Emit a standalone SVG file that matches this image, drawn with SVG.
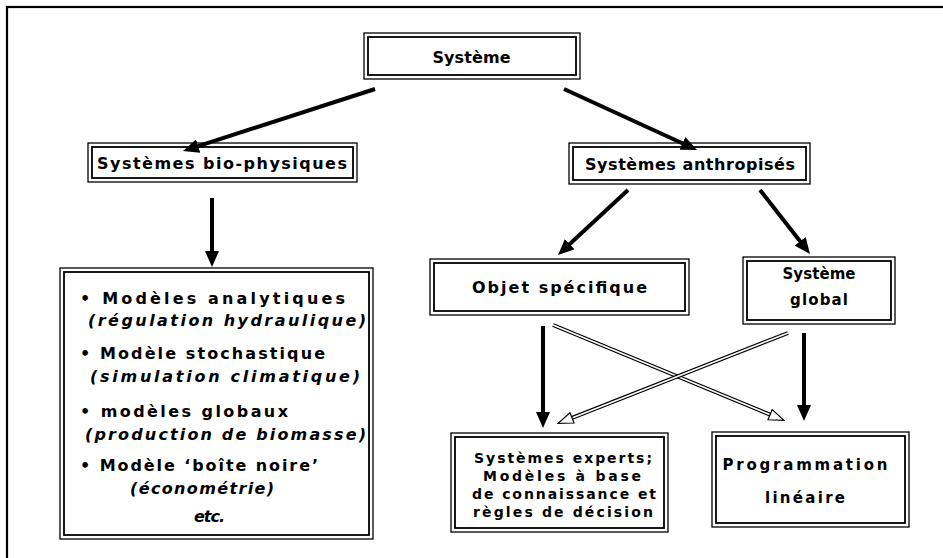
<svg xmlns="http://www.w3.org/2000/svg" width="943" height="558" viewBox="0 0 943 558">
<style>
.bg{fill:#fff}
.o{fill:none;stroke:#000;stroke-width:1.3}
.i{fill:none;stroke:#000;stroke-width:1.8}
.t{font-family:"DejaVu Sans","Liberation Sans",sans-serif;font-weight:bold;fill:#000}
.c{text-anchor:middle}
.it{font-style:italic}
.a{stroke:#000;stroke-width:4;fill:none;marker-end:url(#ah)}
.hb{stroke:#000;stroke-width:4;fill:none}
.hw{stroke:#fff;stroke-width:1.6;fill:none;marker-end:url(#hh)}
</style>
<defs>
<marker id="ah" viewBox="-4 -7 16 14" refX="0" refY="0" markerWidth="16" markerHeight="14" markerUnits="userSpaceOnUse" orient="auto">
<path d="M-4,-7 L12,0 L-4,7 z" fill="#000"/>
</marker>
<marker id="hh" viewBox="-2 -7 18 14" refX="0" refY="0" markerWidth="18" markerHeight="14" markerUnits="userSpaceOnUse" orient="auto">
<path d="M0,-5.5 L15,0 L0,5.5 z" fill="#fff" stroke="#000" stroke-width="1.2"/>
</marker>
</defs>
<rect class="bg" x="0" y="0" width="943" height="558"/>
<rect x="7" y="7" width="960" height="580" fill="none" stroke="#000" stroke-width="2.2"/>

<g id="connectors">
<line class="a" x1="375" y1="89" x2="194.4" y2="147.3"/>
<line class="a" x1="564" y1="89" x2="686.1" y2="145"/>
<line class="a" x1="212" y1="198" x2="212" y2="255"/>
<line class="a" x1="628" y1="190" x2="566.8" y2="246.8"/>
<line class="a" x1="760" y1="190" x2="802.6" y2="244.5"/>
<line class="a" x1="543" y1="326" x2="543" y2="416"/>
<line class="a" x1="804" y1="333" x2="804" y2="409"/>
<g id="hollow1">
<line class="hb" x1="553" y1="325" x2="770.1" y2="414.7"/>
<line class="hw" x1="553" y1="325" x2="770.1" y2="414.7"/>
</g>
<g id="hollow2">
<line class="hb" x1="788" y1="333" x2="572" y2="417.9"/>
<line class="hw" x1="788" y1="333" x2="572" y2="417.9"/>
</g>
</g>

<g id="systeme">
<rect class="o" x="364" y="33" width="216" height="46"/>
<rect class="i" x="368" y="37" width="208" height="38"/>
<text class="t c" x="471.5" y="63" font-size="16" textLength="78" lengthAdjust="spacing">Système</text>
</g>

<g id="bio">
<rect class="o" x="88" y="143" width="269" height="39"/>
<rect class="i" x="92" y="147" width="261" height="31"/>
<text class="t c" x="222" y="169" font-size="16" textLength="250" lengthAdjust="spacing">Systèmes bio-physiques</text>
</g>

<g id="anthro">
<rect class="o" x="569" y="143" width="241" height="41"/>
<rect class="i" x="573" y="147" width="233" height="33"/>
<text class="t c" x="690" y="170" font-size="16" textLength="210" lengthAdjust="spacing">Systèmes anthropisés</text>
</g>

<g id="modeles">
<rect class="o" x="60" y="268" width="313" height="271"/>
<rect class="i" x="64" y="272" width="305" height="263"/>
<text class="t" x="80" y="304" font-size="16" textLength="265" lengthAdjust="spacing">• Modèles analytiques</text>
<text class="t it" x="88" y="326" font-size="16" textLength="278" lengthAdjust="spacing">(régulation hydraulique)</text>
<text class="t" x="80" y="359" font-size="16" textLength="245" lengthAdjust="spacing">• Modèle stochastique</text>
<text class="t it" x="90" y="382" font-size="16" textLength="270" lengthAdjust="spacing">(simulation climatique)</text>
<text class="t" x="80" y="417" font-size="16" textLength="208" lengthAdjust="spacing">• modèles globaux</text>
<text class="t it" x="85" y="440" font-size="16" textLength="281" lengthAdjust="spacing">(production de biomasse)</text>
<text class="t" x="80" y="471" font-size="16" textLength="238" lengthAdjust="spacing">• Modèle ‘boîte noire’</text>
<text class="t it" x="130" y="494" font-size="16" textLength="144" lengthAdjust="spacing">(économétrie)</text>
<text class="t it" x="194" y="522" font-size="16" textLength="31" lengthAdjust="spacing">etc.</text>
</g>

<g id="objet">
<rect class="o" x="430" y="259" width="259" height="56"/>
<rect class="i" x="434" y="263" width="251" height="48"/>
<text class="t c" x="559.5" y="293" font-size="16" textLength="175" lengthAdjust="spacing">Objet spécifique</text>
</g>

<g id="global">
<rect class="o" x="743" y="257" width="152" height="67"/>
<rect class="i" x="747" y="261" width="144" height="59"/>
<text class="t c" x="819" y="279" font-size="15" textLength="73" lengthAdjust="spacing">Système</text>
<text class="t c" x="819" y="305" font-size="15" textLength="58" lengthAdjust="spacing">global</text>
</g>

<g id="experts">
<rect class="o" x="451" y="433" width="217" height="99"/>
<rect class="i" x="455" y="437" width="209" height="91"/>
<text class="t c" x="563" y="463" font-size="14" textLength="178" lengthAdjust="spacing">Systèmes experts;</text>
<text class="t c" x="562" y="481" font-size="14" textLength="158" lengthAdjust="spacing">Modèles à base</text>
<text class="t c" x="564" y="499" font-size="14" textLength="184" lengthAdjust="spacing">de connaissance et</text>
<text class="t c" x="563" y="517" font-size="14" textLength="180" lengthAdjust="spacing">règles de décision</text>
</g>

<g id="programmation">
<rect class="o" x="712" y="432" width="197" height="95"/>
<rect class="i" x="716" y="436" width="189" height="87"/>
<text class="t c" x="805" y="470" font-size="15" textLength="165" lengthAdjust="spacing">Programmation</text>
<text class="t c" x="805" y="503" font-size="15" textLength="80" lengthAdjust="spacing">linéaire</text>
</g>
</svg>
